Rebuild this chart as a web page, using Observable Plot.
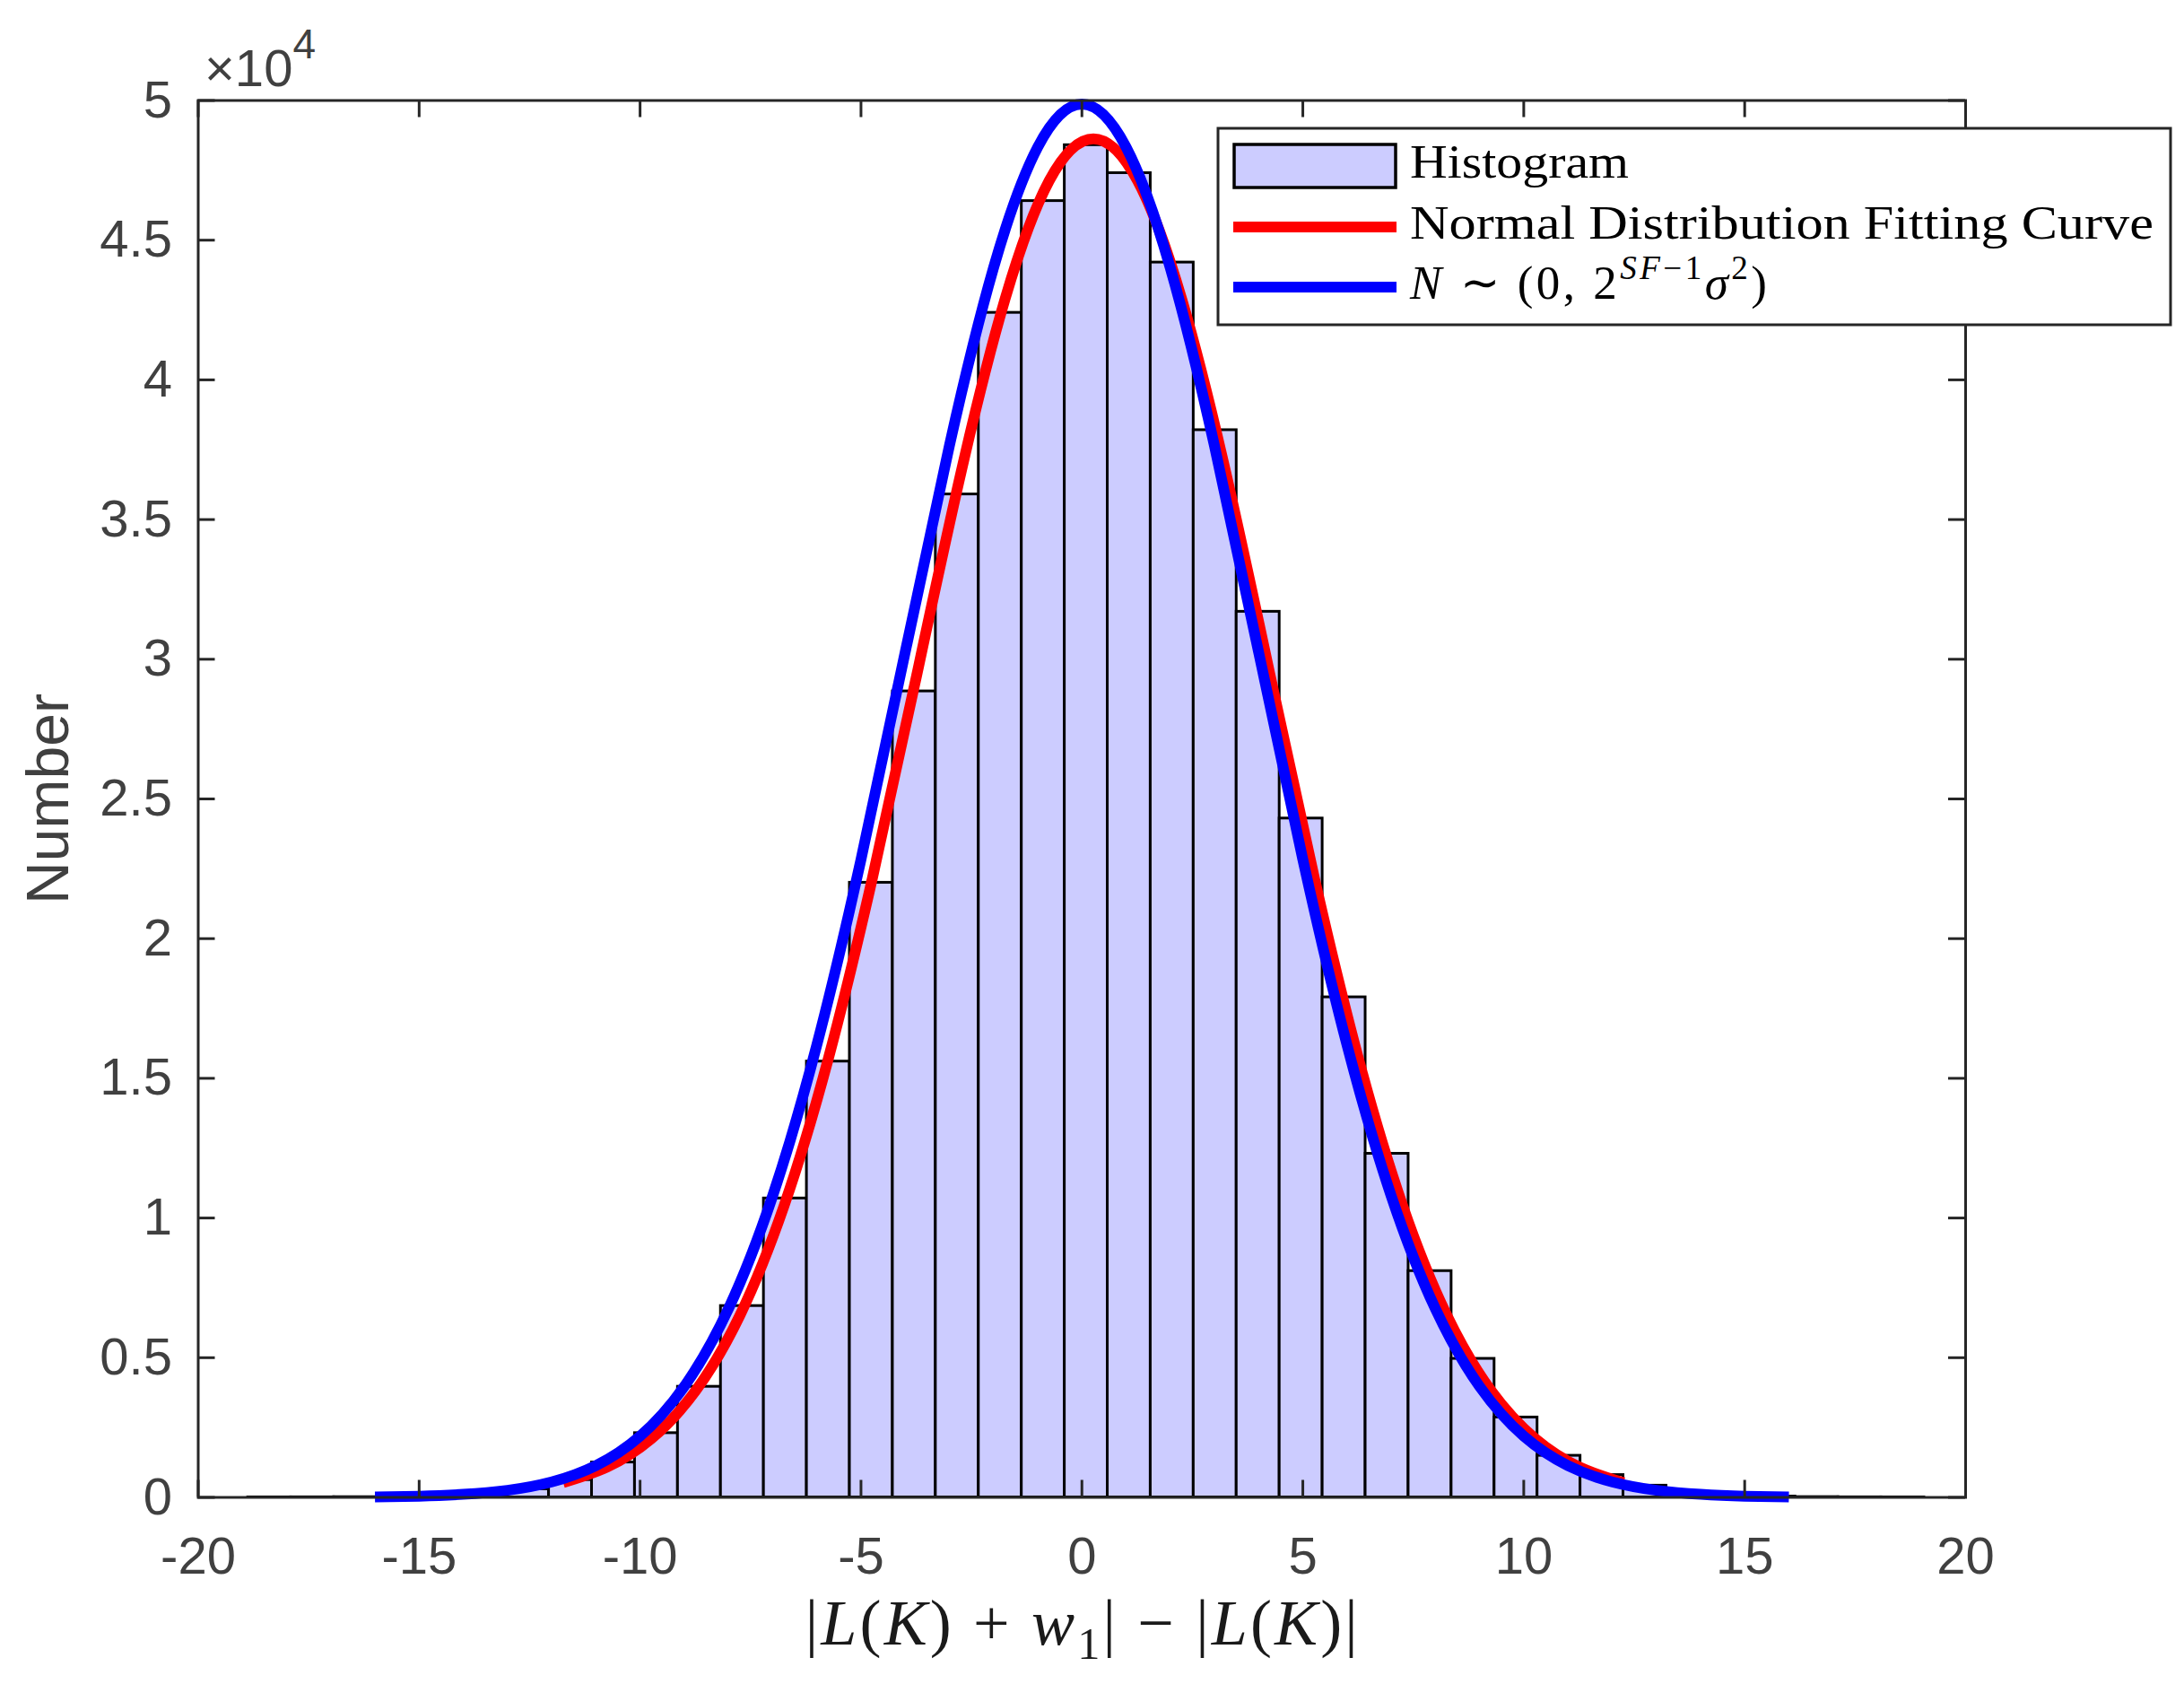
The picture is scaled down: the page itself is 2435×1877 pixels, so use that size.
<!DOCTYPE html>
<html><head><meta charset="utf-8">
<script src="https://cdn.jsdelivr.net/npm/d3@7"></script>
<script src="https://cdn.jsdelivr.net/npm/@observablehq/plot@0.6"></script>
<style>html,body{margin:0;padding:0;background:#fff;overflow:hidden}</style>
</head><body><div id="chart"></div>
<script>
// ---- data ----
const binStart = -18.87;
const binWidth = 0.9727;
const counts = [2, 4, 9, 22, 55, 130, 290, 620, 1250, 2300, 3960, 6850, 10700, 15600, 22000, 28850,
  35900, 42400, 46400, 48400, 47400, 44200, 38200, 31700, 24300, 17900, 12300, 8100, 4960, 2860,
  1490, 800, 420, 180, 75, 30, 11, 4, 2];

const blueX = [-16,-15,-14,-13,-12,-11,-10,-9,-8,-7,-6,-5,-4,-3,-2,-1,0,1,2,3,4,5,6,7,8,9,10,11,12,13,14,15,16];
const blueY = [17, 44, 109, 254, 554, 1137, 2191, 3970, 6750, 10790, 16190, 22830, 30250, 37640, 44010, 48330,
  49870, 48330, 44010, 37640, 30250, 22830, 16190, 10790, 6750, 3970, 2191, 1137, 554, 254, 109, 44, 17];

const redX = [-11.74,-10.74,-9.74,-8.74,-7.74,-6.74,-5.74,-4.74,-3.74,-2.74,-1.74,-0.74,0.26,1.26,2.26,3.26,
  4.26,5.26,6.26,7.26,8.26,9.26,10.26,11.26,12.26];
const redY = [528, 1087, 2103, 3820, 6516, 10440, 15700, 22180, 29420, 36660, 42890, 47130, 48630, 47130,
  42890, 36660, 29420, 22180, 15700, 10440, 6516, 3820, 2103, 1087, 528];

const xTicks = [-20, -15, -10, -5, 0, 5, 10, 15, 20];
const yTicks = [0, 5000, 10000, 15000, 20000, 25000, 30000, 35000, 40000, 45000, 50000];
const yTickLabels = ["0", "0.5", "1", "1.5", "2", "2.5", "3", "3.5", "4", "4.5", "5"];
const yLabel = "Number";
const legendLabels = ["Histogram", "Normal Distribution Fitting Curve", "N ∼ (0, 2^(SF−1) σ^2)"];

// ---- layout ----
const W = 2435, H = 1877;
const mL = 220.5, mR = 244, mT = 111.5, mB = 208.5;
const frameW = W - mL - mR, frameH = H - mT - mB;
const tickLen = 19;
const axisColor = "#262626";
const labelColor = "#404040";
const sans = "'Liberation Sans', Arial, Helvetica, sans-serif";
const serif = "'Liberation Serif', 'Times New Roman', serif";

const bins = counts.map((c, i) => ({x1: binStart + i * binWidth, x2: binStart + (i + 1) * binWidth, count: c}));
const blue = blueX.map((x, i) => ({x, y: blueY[i]}));
const red = redX.map((x, i) => ({x, y: redY[i]}));

const plot = Plot.plot({
  width: W, height: H,
  marginLeft: mL, marginRight: mR, marginTop: mT, marginBottom: mB,
  style: {fontFamily: sans, background: "#fff", overflow: "visible"},
  x: {domain: [-20, 20]},
  y: {domain: [0, 50000]},
  marks: [
    Plot.rectY(bins, {x1: "x1", x2: "x2", y: "count", fill: "#ccccff", stroke: "#000", strokeWidth: 3}),
    Plot.line(red, {x: "x", y: "y", stroke: "#ff0000", strokeWidth: 12, curve: "natural", strokeLinecap: "butt"}),
    Plot.line(blue, {x: "x", y: "y", stroke: "#0000ff", strokeWidth: 12, curve: "natural", strokeLinecap: "butt"}),
    Plot.tickX(xTicks, {x: d => d, insetTop: frameH - tickLen, stroke: axisColor, strokeWidth: 3}),
    Plot.tickX(xTicks, {x: d => d, insetBottom: frameH - tickLen, stroke: axisColor, strokeWidth: 3}),
    Plot.tickY(yTicks, {y: d => d, insetRight: frameW - tickLen, stroke: axisColor, strokeWidth: 3}),
    Plot.tickY(yTicks, {y: d => d, insetLeft: frameW - tickLen, stroke: axisColor, strokeWidth: 3}),
    Plot.frame({stroke: axisColor, strokeWidth: 3}),
    Plot.axisX(xTicks, {tickSize: 0, tickPadding: 43.5, fontSize: 58, fill: labelColor, tickFormat: d => String(d), label: null}),
    Plot.axisY(yTicks, {tickSize: 0, tickPadding: 29, fontSize: 58, fill: labelColor,
      tickFormat: d => yTickLabels[yTicks.indexOf(d)], label: null}),
    Plot.text([yLabel], {text: d => d, frameAnchor: "left", textAnchor: "middle", dx: -166, rotate: -90,
      fontSize: 66, fill: labelColor})
  ]
});
document.getElementById("chart").appendChild(plot);

// ---- math-like text helper ----
const svg = d3.select(plot);
function mathText(parent, parts, x, y, size, opts = {}) {
  const t = parent.append("text").attr("x", x).attr("y", y)
    .attr("font-family", serif).attr("font-size", size).attr("fill", opts.fill || "#000")
    .attr("text-anchor", opts.anchor || "start");
  let shift = 0;
  for (const [s, kind] of parts) {
    let target = 0, fs = size;
    if (kind.includes("sup")) { target = -0.42 * size; fs = 0.7 * size; }
    if (kind.includes("sub")) { target = 0.22 * size; fs = 0.7 * size; }
    const ts = t.append("tspan").text(s).attr("font-size", fs).attr("dy", target - shift);
    if (kind.includes("i")) ts.attr("font-style", "italic");
    shift = target;
  }
  if (opts.length) t.attr("textLength", opts.length).attr("lengthAdjust", opts.adjust || "spacing");
  return t;
}

// x label
mathText(svg, [["|",""],["L","i"],["(",""],["K","i"],[")",""],[" + ",""],["w","i"],["1","sub"],["|",""],
  [" − ",""],["|",""],["L","i"],["(",""],["K","i"],[")",""],["|",""]],
  mL + frameW / 2, 1833, 72, {anchor: "middle", length: 616, fill: "#1a1a1a"});

// ×10^4 exponent label
const ex = svg.append("text").attr("x", 228).attr("y", 96).attr("font-family", sans)
  .attr("text-anchor", "start").attr("font-size", 58).attr("fill", labelColor);
ex.append("tspan").text("×10");
ex.append("tspan").text("4").attr("font-size", 46).attr("dy", -31);

// legend
const lg = svg.append("g");
lg.append("rect").attr("x", 1358).attr("y", 143).attr("width", 1062).attr("height", 219)
  .attr("fill", "#fff").attr("stroke", axisColor).attr("stroke-width", 3);
lg.append("rect").attr("x", 1376).attr("y", 161).attr("width", 180).attr("height", 48)
  .attr("fill", "#ccccff").attr("stroke", "#000").attr("stroke-width", 3.5);
lg.append("line").attr("x1", 1375).attr("x2", 1557).attr("y1", 253).attr("y2", 253)
  .attr("stroke", "#ff0000").attr("stroke-width", 12);
lg.append("line").attr("x1", 1375).attr("x2", 1557).attr("y1", 320).attr("y2", 320)
  .attr("stroke", "#0000ff").attr("stroke-width", 12);
mathText(lg, [[legendLabels[0], ""]], 1572, 198, 53, {length: 244, adjust: "spacingAndGlyphs"});
mathText(lg, [[legendLabels[1], ""]], 1572, 266, 53, {length: 829, adjust: "spacingAndGlyphs"});
mathText(lg, [["N","i"],[" ∼ ",""],["(0, 2",""],["SF","isup"],["−1","sup"],["σ","i"],["2","sup"],[")",""]],
  1572, 333, 53, {length: 398});
</script>
</body></html>
